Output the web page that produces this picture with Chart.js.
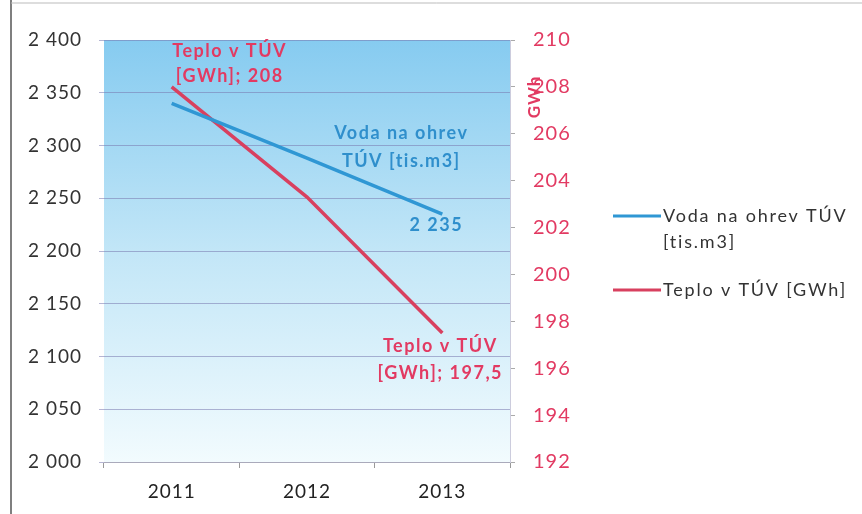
<!DOCTYPE html>
<html>
<head>
<meta charset="utf-8">
<script src="https://cdn.jsdelivr.net/npm/chart.js@4.4.1/dist/chart.umd.min.js"></script>
<style>
html,body{margin:0;padding:0;background:#fff;}
#wrap{width:862px;height:514px;}
</style>
</head>
<body>
<div id="wrap"><canvas id="c" width="862" height="514"></canvas></div>
<script>
const years = ['2011', '2012', '2013'];
const vodaValues = [2340, 2288, 2235];
const teploValues = [208, 203.3, 197.5];
const vodaLegend = ['Voda na ohrev TÚV', '[tis.m3]'];
const teploLegend = ['Teplo v TÚV [GWh]'];
const vodaName = 'Voda na ohrev TÚV [tis.m3]';
const teploName = 'Teplo v TÚV [GWh]';
const rightAxisTitle = 'GWh';

const BLUE = '#2f97d4';
const RED = '#d8405f';
const RED_TXT = '#e23a62';
const BLUE_TXT = '#2f8fcc';
const FONT = 'Lato, "Open Sans", sans-serif';

const bgPlugin = {
  id: 'bg',
  beforeDraw(chart) {
    const {ctx, chartArea: a} = chart;
    ctx.save();
    ctx.fillStyle = '#fff';
    ctx.fillRect(0, 0, chart.width, chart.height);
    const g = ctx.createLinearGradient(0, a.top, 0, a.bottom);
    g.addColorStop(0, '#86cbf0');
    g.addColorStop(0.5, '#c2e6f7');
    g.addColorStop(1, '#f2fbfe');
    ctx.fillStyle = g;
    ctx.fillRect(a.left, a.top, a.right - a.left, a.bottom - a.top);
    ctx.strokeStyle = '#555';
    ctx.lineWidth = 1.5;
    ctx.beginPath();
    ctx.moveTo(11, 0); ctx.lineTo(11, chart.height);
    ctx.stroke();
    ctx.strokeStyle = '#bbb';
    ctx.lineWidth = 1;
    ctx.beginPath();
    ctx.moveTo(11, 3); ctx.lineTo(chart.width, 3);
    ctx.stroke();
    ctx.restore();
    // wider glyph spacing, like the scanned reference
    ctx.letterSpacing = '1px';
  }
};

const labelPlugin = {
  id: 'labels',
  afterDatasetsDraw(chart) {
    const {ctx} = chart;
    const m0 = chart.getDatasetMeta(0).data;
    const m1 = chart.getDatasetMeta(1).data;
    ctx.save();
    ctx.letterSpacing = '1.5px';
    ctx.textAlign = 'center';
    ctx.textBaseline = 'middle';
    ctx.font = 'bold 18px ' + FONT;
    ctx.fillStyle = RED_TXT;
    let p = m1[0];
    ctx.fillText('Teplo v TÚV', p.x + 58, p.y - 36);
    ctx.fillText('[GWh]; ' + String(teploValues[0]).replace('.', ','), p.x + 58, p.y - 11);
    p = m1[2];
    ctx.fillText('Teplo v TÚV', p.x - 2, p.y + 13);
    ctx.fillText('[GWh]; ' + String(teploValues[2]).replace('.', ','), p.x - 2, p.y + 40);
    ctx.fillStyle = BLUE_TXT;
    p = m0[2];
    ctx.fillText('Voda na ohrev', p.x - 41, p.y - 81);
    ctx.fillText('TÚV [tis.m3]', p.x - 41, p.y - 53);
    ctx.fillText(fmt(vodaValues[2]), p.x - 6, p.y + 11);
    const y2 = chart.scales.y2;
    ctx.fillStyle = RED_TXT;
    ctx.font = 'bold 17px ' + FONT;
    ctx.letterSpacing = '1px';
    ctx.translate(y2.left + 25, y2.top + 57);
    ctx.rotate(-Math.PI / 2);
    ctx.fillText(rightAxisTitle, 0, 0);
    ctx.restore();
  }
};

const legendPlugin = {
  id: 'customLegend',
  afterDraw(chart) {
    const {ctx} = chart;
    const items = [
      {color: chart.data.datasets[0].borderColor, lines: vodaLegend, y: 216},
      {color: chart.data.datasets[1].borderColor, lines: teploLegend, y: 290}
    ];
    ctx.save();
    ctx.font = '18px ' + FONT;
    ctx.letterSpacing = '1.8px';
    ctx.textBaseline = 'middle';
    ctx.textAlign = 'left';
    items.forEach(it => {
      ctx.strokeStyle = it.color;
      ctx.lineWidth = 3;
      ctx.beginPath();
      ctx.moveTo(613, it.y); ctx.lineTo(661, it.y);
      ctx.stroke();
      ctx.fillStyle = '#333';
      it.lines.forEach((t, i) => ctx.fillText(t, 663, it.y + i * 26));
    });
    ctx.restore();
  }
};

function fmt(v) {
  const s = String(Math.round(v));
  return s.length > 3 ? s.slice(0, s.length - 3) + ' ' + s.slice(-3) : s;
}

new Chart(document.getElementById('c'), {
  type: 'line',
  data: {
    labels: years,
    datasets: [
      {label: vodaName, data: vodaValues, yAxisID: 'y', borderColor: BLUE, borderWidth: 3.5, pointRadius: 0, tension: 0},
      {label: teploName, data: teploValues, yAxisID: 'y2', borderColor: RED, borderWidth: 3.5, pointRadius: 0, tension: 0}
    ]
  },
  options: {
    responsive: false,
    animation: false,
    layout: {padding: {left: 0, right: 282, top: 40, bottom: 0}},
    plugins: {legend: {display: false}, tooltip: {enabled: false}},
    scales: {
      x: {
        offset: true,
        grid: {offset: true, drawOnChartArea: false, tickLength: 6, color: '#999'},
        border: {color: '#aab'},
        ticks: {font: {family: FONT, size: 19}, color: '#222', padding: 12},
        afterFit(s) { s.height = 52; }
      },
      y: {
        min: 2000, max: 2400,
        ticks: {stepSize: 50, font: {family: FONT, size: 19}, color: '#333', padding: 17, callback: v => fmt(v)},
        grid: {color: 'rgba(120,120,175,0.55)', tickLength: 5, lineWidth: 1},
        border: {display: false},
        afterFit(s) { s.width = 104; }
      },
      y2: {
        position: 'right',
        min: 192, max: 210,
        ticks: {stepSize: 2, font: {family: FONT, size: 20}, color: RED_TXT, padding: 18},
        grid: {drawOnChartArea: false, tickLength: 5, color: '#aaa'},
        border: {color: '#ccd'},
        afterFit(s) { s.width = 70; }
      }
    }
  },
  plugins: [bgPlugin, labelPlugin, legendPlugin]
});
</script>
</body>
</html>
